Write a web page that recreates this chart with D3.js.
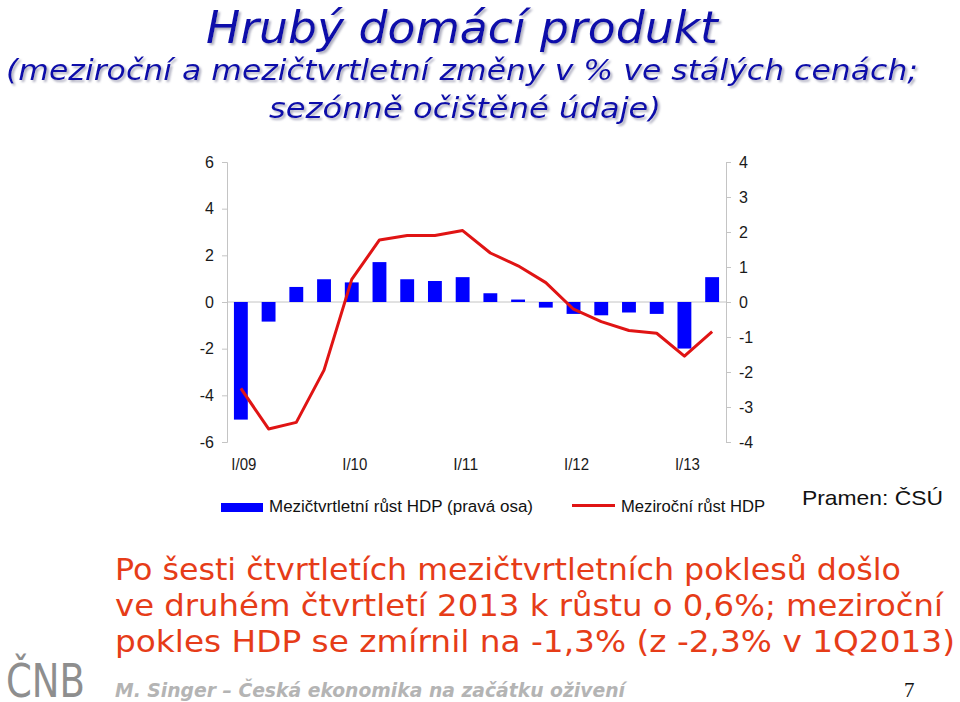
<!DOCTYPE html>
<html>
<head>
<meta charset="utf-8">
<script src="https://cdn.jsdelivr.net/npm/d3@7"></script>
<style>
  body { margin: 0; background: #fff; }
  svg { display: block; }
</style>
</head>
<body>
<div id="chart"></div>
<script>
// quarters, I/09 .. II/13
const quarters = ["I/09", "II/09", "III/09", "IV/09", "I/10", "II/10", "III/10", "IV/10",
                  "I/11", "II/11", "III/11", "IV/11", "I/12", "II/12", "III/12", "IV/12",
                  "I/13", "II/13"];
// mezičtvrtletní růst (pravá osa)
const qoq = [-3.36, -0.56, 0.43, 0.65, 0.56, 1.14, 0.65, 0.60, 0.71, 0.25, 0.07, -0.16,
             -0.34, -0.38, -0.30, -0.34, -1.33, 0.71];
// meziroční růst (levá osa)
const yoy = [-3.7, -5.44, -5.16, -2.92, 0.97, 2.66, 2.85, 2.85, 3.06, 2.10, 1.55, 0.83,
             -0.31, -0.84, -1.22, -1.34, -2.32, -1.27];
const leftTicks = [-6, -4, -2, 0, 2, 4, 6];
const rightTicks = [-4, -3, -2, -1, 0, 1, 2, 3, 4];
const xLabels = ["I/09", "I/10", "I/11", "I/12", "I/13"];

const width = 960, height = 702;
const svg = d3.select('#chart').append('svg')
    .attr('width', width)
    .attr('height', height);

// soft shadow behind the title
svg.append('defs').append('filter')
    .attr('id', 'shadow')
    .attr('x', '-5%').attr('y', '-20%').attr('width', '110%').attr('height', '150%')
    .append('feDropShadow')
    .attr('dx', 2).attr('dy', 2).attr('stdDeviation', 0.8)
    .attr('flood-color', '#9a9ab0').attr('flood-opacity', 0.8);

// --- title ---
const blue = '#0c0caa';
function titleText(txt, x, y, size, len) {
    svg.append('text')
        .attr('x', x).attr('y', y)
        .attr('text-anchor', 'middle')
        .attr('font-family', '"DejaVu Sans", Verdana, sans-serif')
        .attr('font-style', 'italic')
        .attr('font-size', size)
        .attr('textLength', len)
        .attr('lengthAdjust', 'spacingAndGlyphs')
        .attr('fill', blue)
        .attr('filter', 'url(#shadow)')
        .text(txt);
}
titleText('Hrubý domácí produkt', 462, 43, 45, 512);
titleText('(meziroční a mezičtvrtletní změny v % ve stálých cenách;', 462, 80, 28, 912);
titleText('sezónně očištěné údaje)', 465, 118, 28, 392);

// --- scales ---
const x = d3.scaleBand()
    .domain(quarters)
    .range([227, 726])
    .paddingInner(0.5)
    .paddingOuter(0.25);

const yLeft = d3.scaleLinear().domain([-6, 6]).range([442, 162]);
const yRight = d3.scaleLinear().domain([-4, 4]).range([442, 162]);

function styleTicks(a) {
    a.selectAll('.tick text')
        .attr('font-family', '"Liberation Sans", Arial, sans-serif')
        .attr('font-size', 16)
        .attr('fill', '#1a1a1a');
}

// axes
const axisL = svg.append('g')
    .attr('transform', 'translate(227,0)')
    .call(d3.axisLeft(yLeft).tickValues(leftTicks).tickFormat(d => String(d))
        .tickSize(5).tickPadding(8));
const axisR = svg.append('g')
    .attr('transform', 'translate(726,0)')
    .call(d3.axisRight(yRight).tickValues(rightTicks).tickFormat(d => String(d))
        .tickSize(5).tickPadding(8));
[axisL, axisR].forEach(a => {
    a.select('.domain').attr('stroke', '#c4c4c4');
    a.selectAll('.tick line').attr('stroke', '#c4c4c4');
    styleTicks(a);
});

// zero line
svg.append('line')
    .attr('x1', 227).attr('x2', 726)
    .attr('y1', yRight(0)).attr('y2', yRight(0))
    .attr('stroke', '#c4c4c4');

// x labels
const axisX = svg.append('g')
    .attr('transform', 'translate(3,457)')
    .call(d3.axisBottom(x).tickValues(xLabels).tickSize(0).tickPadding(2));
axisX.select('.domain').remove();
styleTicks(axisX);
axisX.selectAll('.tick text')
    .attr('textLength', 25).attr('lengthAdjust', 'spacingAndGlyphs');

// bars
svg.selectAll('rect.bar')
    .data(qoq)
    .enter().append('rect')
    .attr('class', 'bar')
    .attr('x', (d, i) => x(quarters[i]))
    .attr('y', d => yRight(Math.max(0, d)))
    .attr('width', x.bandwidth())
    .attr('height', d => Math.abs(yRight(d) - yRight(0)))
    .attr('fill', '#0000ff');

// line
const line = d3.line()
    .x((d, i) => x(quarters[i]) + x.bandwidth() / 2)
    .y(d => yLeft(d));
svg.append('path')
    .datum(yoy)
    .attr('d', line)
    .attr('fill', 'none')
    .attr('stroke', '#e01414')
    .attr('stroke-width', 3)
    .attr('stroke-linejoin', 'round');

// legend
const lg = svg.append('g')
    .attr('font-family', '"Liberation Sans", Arial, sans-serif')
    .attr('font-size', 16)
    .attr('fill', '#111');
lg.append('rect').attr('x', 221).attr('y', 503).attr('width', 42).attr('height', 9).attr('fill', '#0000ff');
lg.append('text').attr('x', 269).attr('y', 512)
    .attr('textLength', 264).attr('lengthAdjust', 'spacingAndGlyphs')
    .text('Mezičtvrtletní růst HDP (pravá osa)');
lg.append('line').attr('x1', 572).attr('x2', 615).attr('y1', 505.5).attr('y2', 505.5)
    .attr('stroke', '#e01414').attr('stroke-width', 3);
lg.append('text').attr('x', 621).attr('y', 512)
    .attr('textLength', 144).attr('lengthAdjust', 'spacingAndGlyphs')
    .text('Meziroční růst HDP');

svg.append('text')
    .attr('x', 802).attr('y', 505)
    .attr('font-family', '"Liberation Sans", Arial, sans-serif')
    .attr('font-size', 21)
    .attr('textLength', 141).attr('lengthAdjust', 'spacingAndGlyphs')
    .attr('fill', '#111')
    .text('Pramen: ČSÚ');

// comment text
const comment = [
    ['Po šesti čtvrtletích mezičtvrtletních poklesů došlo', 580, 786],
    ['ve druhém čtvrtletí 2013 k růstu o 0,6%; meziroční', 616, 828],
    ['pokles HDP se zmírnil na -1,3% (z -2,3% v 1Q2013)', 652, 840]
];
svg.selectAll('text.comment')
    .data(comment)
    .enter().append('text')
    .attr('class', 'comment')
    .attr('x', 115)
    .attr('y', d => d[1])
    .attr('font-family', '"DejaVu Sans", Verdana, sans-serif')
    .attr('font-size', 30)
    .attr('textLength', d => d[2])
    .attr('lengthAdjust', 'spacingAndGlyphs')
    .attr('fill', '#e63c18')
    .text(d => d[0]);

// footer: logo drawn as text, squeezed to its width
svg.append('text')
    .attr('transform', 'translate(6,697) scale(1,1.12)')
    .attr('font-family', '"DejaVu Sans Condensed", "Liberation Sans", sans-serif')
    .attr('font-size', 42)
    .attr('textLength', 79).attr('lengthAdjust', 'spacingAndGlyphs')
    .attr('fill', '#8e8e8e')
    .text('ČNB');

svg.append('text')
    .attr('x', 115).attr('y', 697)
    .attr('font-family', '"DejaVu Sans", Verdana, sans-serif')
    .attr('font-size', 19)
    .attr('font-weight', 'bold')
    .attr('font-style', 'italic')
    .attr('textLength', 510).attr('lengthAdjust', 'spacingAndGlyphs')
    .attr('fill', '#b4b4b4')
    .text('M. Singer – Česká ekonomika na začátku oživení');

svg.append('text')
    .attr('x', 904).attr('y', 697)
    .attr('font-family', '"Liberation Serif", "Times New Roman", serif')
    .attr('font-size', 21)
    .attr('fill', '#111')
    .text('7');
</script>
</body>
</html>
